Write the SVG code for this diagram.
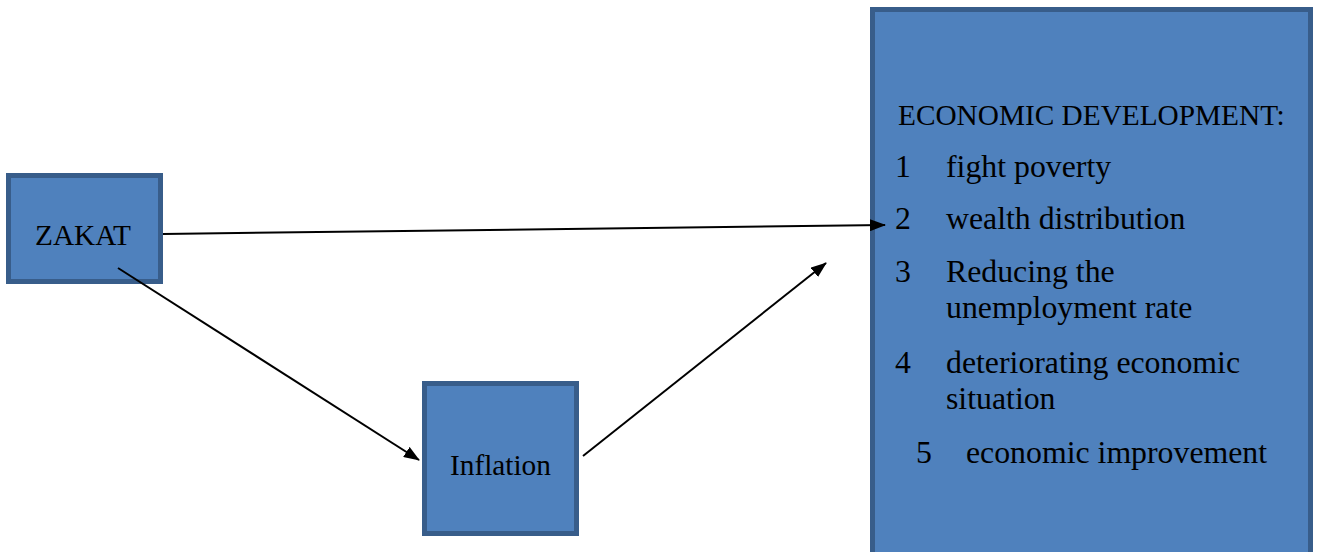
<svg xmlns="http://www.w3.org/2000/svg" width="1319" height="552" viewBox="0 0 1319 552">
<defs>
<style>
.box{fill:#4f81bd;stroke:#385d8a;stroke-width:5}
.t{font-family:"Liberation Serif","Times New Roman",serif;font-size:29.3px;fill:#000}
.i{font-family:"Liberation Serif","Times New Roman",serif;font-size:31.8px;fill:#000}
.c{stroke:#000;stroke-width:2;fill:none;marker-end:url(#ah)}
</style>
<marker id="ah" markerWidth="16" markerHeight="12" refX="15" refY="6" orient="auto" markerUnits="userSpaceOnUse" viewBox="0 0 16 12">
<path d="M0,0 L16,6 L0,12 Z" fill="#000"/>
</marker>
</defs>
<g id="zakat">
<rect class="box" x="8.5" y="175.5" width="152" height="106"/>
<text class="t" x="35" y="245">ZAKAT</text>
</g>
<g id="inflation">
<rect class="box" x="424.5" y="383.5" width="152" height="150"/>
<text class="t" x="450" y="475">Inflation</text>
</g>
<g id="economic">
<rect class="box" x="872.5" y="9.5" width="438" height="560"/>
<text class="t" x="898" y="125">ECONOMIC DEVELOPMENT:</text>
<text class="i" x="895" y="177">1</text>
<text class="i" x="946" y="177">fight poverty</text>
<text class="i" x="895" y="229">2</text>
<text class="i" x="946" y="229">wealth distribution</text>
<text class="i" x="895" y="282">3</text>
<text class="i" x="946" y="282">Reducing the</text>
<text class="i" x="946" y="318">unemployment rate</text>
<text class="i" x="895" y="373">4</text>
<text class="i" x="946" y="373">deteriorating economic</text>
<text class="i" x="946" y="409">situation</text>
<text class="i" x="916" y="463">5</text>
<text class="i" x="966" y="463">economic improvement</text>
</g>
<g id="connectors">
<line class="c" x1="163" y1="234" x2="885" y2="225"/>
<line class="c" x1="118" y1="268" x2="419" y2="460"/>
<line class="c" x1="583" y1="456" x2="826" y2="263"/>
</g>
</svg>
